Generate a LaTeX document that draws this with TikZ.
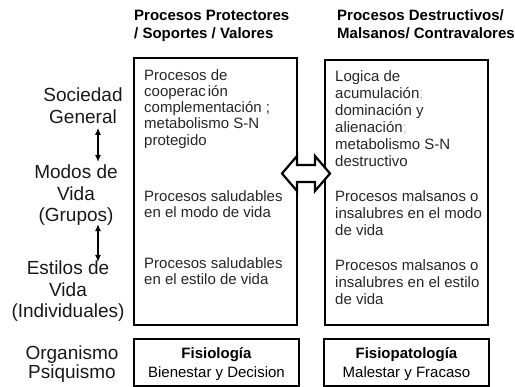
\documentclass[tikz,border=0pt]{standalone}
\usepackage{fontspec}
\setmainfont{Liberation Sans}
\usetikzlibrary{arrows.meta,calc}

\definecolor{tenue}{RGB}{190,205,228}

\tikzset{
  caja/.style={draw, line width=2.2pt, inner sep=0pt, outer sep=0pt, anchor=north west},
  txt/.style={inner sep=0pt, anchor=north west, align=left, text=black!85,
    font=\fontsize{15}{16.3}\selectfont},
  txtd/.style={txt, font=\fontsize{15}{17}\selectfont},
  nivel/.style={inner sep=0pt, anchor=north, align=center, text=black!90,
    font=\fontsize{19}{21.5}\selectfont},
  cabeza/.style={inner sep=0pt, anchor=north west, align=left,
    font=\fontsize{15}{18}\selectfont\bfseries},
  flecha/.style={{Latex[length=7pt,width=6pt]}-{Latex[length=7pt,width=6pt]}, line width=1.4pt},
}

\begin{document}
\begin{tikzpicture}[x=1pt,y=-1pt]
\useasboundingbox (0,0) rectangle (515,387);
% cabeceras
  \node[cabeza] (hprot) at (134,9.5) {Procesos Protectores\\/ Soportes / Valores};
  \node[cabeza] (hdest) at (337,9.5) {Procesos Destructivos/\\Malsanos/ Contravalores};
% niveles (izquierda)
  \node[nivel] (soc)     at (83,88)  {Sociedad\\General};
  \node[nivel] (modos)   at (76,165) {Modos de\\Vida\\(Grupos)};
  \node[nivel] (estilos) at (68,261) {Estilos de\\Vida\\(Individuales)};
  \node[nivel, font=\fontsize{19}{19}\selectfont] (org) at (72,346) {Organismo\\Psiquismo};
  \coordinate (eje) at (98,0);
  \draw[flecha, shorten <=4pt, shorten >=3pt] (soc.south -| eje) -- (modos.north -| eje);
  \draw[flecha, shorten <=-2pt, shorten >=-1pt] (modos.south -| eje) -- (estilos.north -| eje);
% cajas
  \node[caja, minimum width=163pt, minimum height=267pt] (prot) at (134,58) {};
  \node[caja, minimum width=163pt, minimum height=265pt] (dest) at (325,60) {};
  \node[caja, minimum width=165pt, minimum height=47pt]  (fis)  at (134,339) {};
  \node[caja, minimum width=165pt, minimum height=47pt]  (fisp) at (324,339) {};
% procesos protectores
  \node[txt] (p1) at (144,69)  {Procesos de\\cooperac\hspace{2pt}ión\\complementación ;\\metabolismo S-N\\protegido};
  \node[txt] (p2) at (144,190) {Procesos saludables\\en el modo de vida};
  \node[txt] (p3) at (144,257) {Procesos saludables\\en el estilo de vida};
% procesos destructivos
  \node[txtd] (d1) at (335,70)  {Logica de\\acumulación\textcolor{tenue}{ ;}\\dominación y\\alienación\textcolor{tenue}{ ;}\\metabolismo S-N\\destructivo};
  \node[txtd] (d2) at (335,190) {Procesos malsanos o\\insalubres en el modo\\de vida};
  \node[txtd] (d3) at (335,259) {Procesos malsanos o\\insalubres en el estilo\\de vida};
% organismo
  \node[inner sep=0pt, align=center, font=\fontsize{15}{19}\selectfont] (fistx)  at ($(fis.center)+(0,1.5)$)  {\textbf{Fisiología}\\Bienestar y Decision};
  \node[inner sep=0pt, align=center, font=\fontsize{15}{19}\selectfont] (fisptx) at ($(fisp.center)+(0,1.5)$) {\textbf{Fisiopatología}\\Malestar y Fracaso};
% doble flecha entre cajas
  \coordinate (dbl) at (306,173.5);
  \filldraw[fill=white, line width=2.2pt] (dbl) ++(-24,0) -- ++(15,-17.5) -- ++(0,9) -- ++(18,0) -- ++(0,-9)
    -- ++(15,17.5) -- ++(-15,17.5) -- ++(0,-9) -- ++(-18,0) -- ++(0,9) -- cycle;
\end{tikzpicture}
\end{document}
